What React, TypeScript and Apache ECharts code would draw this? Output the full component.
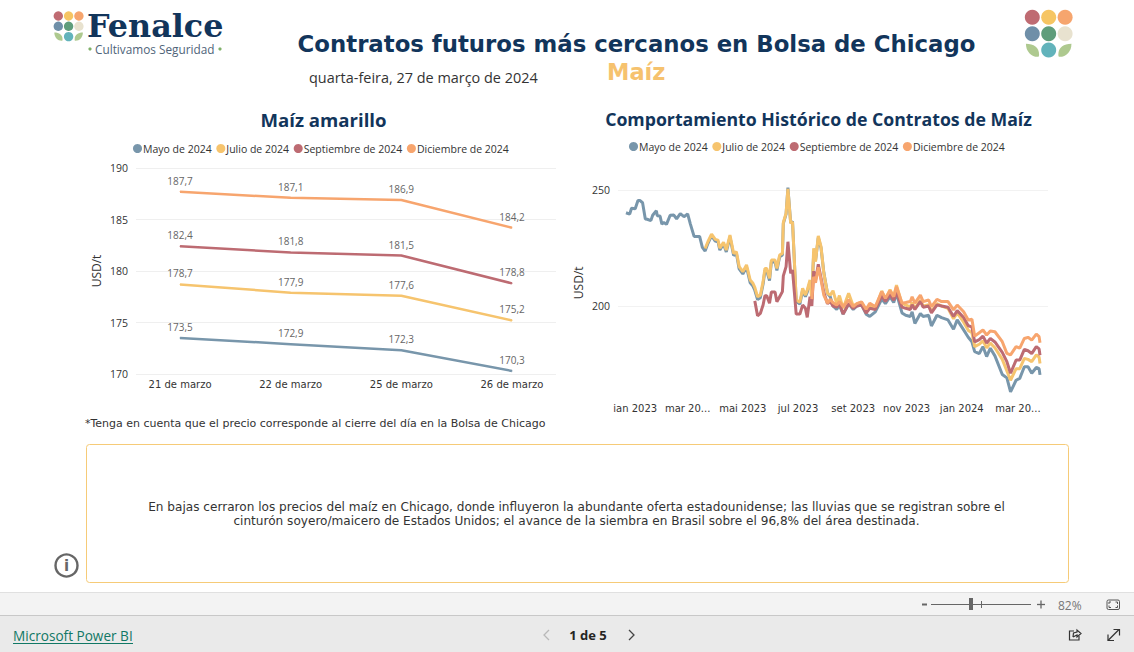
import React, { useEffect, useRef } from "react";
import * as echarts from "echarts";

const contratos = ["Mayo de 2024", "Julio de 2024", "Septiembre de 2024", "Diciembre de 2024"];
const colores = ["#7896ab", "#f6c46e", "#bd6b72", "#f7a56e"];

// Cierres recientes
const fechas = ["21 de marzo", "22 de marzo", "25 de marzo", "26 de marzo"];
const mayoCierre = [173.5, 172.9, 172.3, 170.3];
const julioCierre = [178.7, 177.9, 177.6, 175.2];
const septiembreCierre = [182.4, 181.8, 181.5, 178.8];
const diciembreCierre = [187.7, 187.1, 186.9, 184.2];

// Histórico: días desde el 1 de enero de 2023
const dias = [
  0, 4, 6, 10, 13, 15, 18, 21, 23, 27, 29, 33, 34, 37, 39, 41, 44, 48, 52, 55, 59, 63, 67, 70, 74, 80, 83, 86,
  89, 93, 97, 100, 102, 106, 109, 113, 117, 120,
  123, 127, 131, 135, 138, 140, 143, 146, 149, 151,
  153, 156, 158, 162, 164, 167, 170, 171, 174, 176,
  179, 181, 185, 189, 192, 195, 197, 200, 202, 204,
  206, 209, 212, 215, 219, 222,
  225, 229, 232, 236, 242, 247, 251, 256, 261, 265,
  271, 278, 282, 287, 291, 294, 300, 304, 309, 311,
  314, 320, 323, 329, 332, 338, 343, 350, 356, 360,
  367, 372, 376, 379, 384, 388, 392, 396, 401, 409,
  414, 418, 424, 428, 433, 437, 441, 446, 449, 450,
];
const mayoHist = [
  240.2, 239.6, 242.1, 241.9, 245.5, 245.5, 244.5, 237.5, 237.4, 236.8, 239.1, 241.1, 238.9, 238.8, 235.3, 236, 235.2, 239.1, 239.2, 237.6, 239.8, 238.5, 239.7, 235.3, 230, 230, 225.3, 223.7,
  226.9, 230.3, 228, 227.7, 224.1, 226.7, 223.3, 229.8, 221.8, 222.6,
  216, 213.8, 216.8, 210, 208.6, 206.8, 202.8, 203.6, 209.5, 215.2,
  215.2, 210.9, 219, 219, 215.3, 221.2, 222, 235.5, 239.6, 251,
  235.8, 236.5, 202, 200.8, 206.8, 204, 206, 210.4, 206, 222.5,
  219.5, 229.5, 225, 214.5, 205.5, 204,
  200, 198.5, 200.5, 196.5, 201, 198.5, 200, 200.5, 196.5, 195.5,
  197.5, 203, 201, 204, 201.5, 205.5, 197, 196, 195.5, 197.5,
  192.5, 196.8, 195.5, 196, 191.4, 196, 195, 194, 190, 194,
  189.7, 186.5, 184.6, 180.3, 179.5, 182.5, 178.2, 181.8, 178.5, 170.5,
  169, 163, 168, 168.8, 173.8, 173.8, 171, 173.5, 173, 170.3,
];
const julioHist = [
  224.8,
  227.7, 231, 228.7, 228.4, 224.9, 227.5, 224.1, 230.6, 222.7, 223.4,
  217, 214.8, 217.7, 211.2, 209.8, 208, 204, 204.7, 210.5, 216.2,
  216.2, 211.9, 219.8, 219.8, 216.2, 222, 222.7, 236, 240, 250.5,
  235.6, 236.3, 202.6, 201.6, 207.6, 204.7, 206.9, 211.2, 202.6, 224.9,
  219.1, 230.2, 225.6, 214.1, 205.5, 204.7,
  206.6, 201, 204.5, 199, 205.5, 200, 201, 201.5, 198, 200,
  199, 206.5, 203, 207, 204, 209, 201, 200.5, 199.5, 201.5,
  199, 202.5, 200, 200.5, 197.5, 201, 200, 199, 194.5, 197,
  193, 189.5, 188.5, 182.5, 183.5, 185, 182, 184, 182, 177,
  172, 168, 173, 173, 177.4, 177, 176, 178.9, 178, 175.2,
];
const septiembreHist = [
  202.2, 195.8, 196.8, 200.4, 204.4,
  204.4, 201.2, 206, 206, 201.8, 204, 206.2, 213, 217, 227.7,
  214.1, 215.5, 196.5, 196.5, 200.4, 199, 195.1, 204, 200, 215,
  211, 218, 212, 206, 201, 202,
  200, 199.5, 201, 196.5, 201, 199, 200, 200.5, 197, 199,
  198.5, 204.5, 202, 205, 202.5, 206, 199.5, 199, 198.5, 200.5,
  198.5, 202, 199.5, 200, 197, 200.5, 200, 199.5, 195.5, 198,
  195, 191.5, 191, 184.5, 185.5, 187, 184, 186, 184.5, 180,
  176, 171, 176.7, 176.7, 181.3, 180.7, 179.5, 182.5, 181.5, 178.8,
];
const diciembreHist = [
  203, 212.6,
  210, 216.7, 211.2, 204.7, 201.2, 202.9,
  201.4, 200.4, 201.9, 199.7, 202.6, 199.7, 201, 201.8, 198.6, 201.2,
  199.7, 206.2, 203.3, 206.6, 204, 208.3, 201.2, 201.5, 201.9, 204,
  201.2, 204.7, 201.9, 202.6, 199.7, 202.9, 201.9, 201.9, 198.3, 200.4,
  197.5, 194, 194.3, 187, 188.5, 189.7, 187.5, 189.2, 188.9, 184.6,
  179.6, 178.9, 182.5, 181.8, 186, 186.5, 185.3, 187.9, 186.8, 184.2,
];
const marcasMes = [10, 67, 127, 187, 247, 305, 365, 426];
const etiquetasMes = ["ian 2023", "mar 20...", "mai 2023", "jul 2023", "set 2023", "nov 2023", "jan 2024", "mar 20..."];

const titulo = "Contratos futuros más cercanos en Bolsa de Chicago";
const subtitulo = "quarta-feira, 27 de março de 2024";
const nota = "*Tenga en cuenta que el precio corresponde al cierre del día en la Bolsa de Chicago";
const comentario1 = "En bajas cerraron los precios del maíz en Chicago, donde influyeron la abundante oferta estadounidense; las lluvias que se registran sobre el";
const comentario2 = "cinturón soyero/maicero de Estados Unidos; el avance de la siembra en Brasil sobre el 96,8% del área destinada.";

echarts.graphic.registerShape(
  "hoja",
  echarts.graphic.extendPath("M0 0 C6 0 10 3 10 8 C10 9 10 10 9 10 C4 10 0 6 0 0 Z", {})
);

const SEGOE = "'Open Sans', sans-serif";
const DEJA = "'DejaVu Sans', sans-serif";
const AZUL = "#12355b";

function txt(text: string, x: number, y: number, font: string, size: number, fill: string, weight = "normal", align = "left") {
  return { type: "text", x, y, silent: true, style: { text, font: `${weight} ${size}px ${font}`, fill, align, verticalAlign: "middle" } };
}
function circ(cx: number, cy: number, r: number, fill: string) {
  return { type: "circle", silent: true, shape: { cx, cy, r }, style: { fill } };
}
function hoja(x: number, y: number, s: number, flip: boolean) {
  return { type: "hoja", silent: true, x, y, scaleX: flip ? -s : s, scaleY: s, style: { fill: "#aec98f" } };
}
function ln(x1: number, y1: number, x2: number, y2: number, stroke: string, lineWidth = 1) {
  return { type: "line", silent: true, shape: { x1, y1, x2, y2 }, style: { stroke, lineWidth } };
}
function pl(points: number[][], stroke: string, lineWidth = 1.3) {
  return { type: "polyline", silent: true, shape: { points }, style: { stroke, lineWidth, fill: "none" } };
}
function logo(x0: number, y0: number, step: number, r: number) {
  const cols = ["#bf6b72", "#f6c563", "#f6a56e", "#6f8fa8", "#5f9d7b", "#e8e2cf"];
  const out: any[] = [];
  cols.forEach((c, i) => out.push(circ(x0 + (i % 3) * step, y0 + Math.floor(i / 3) * step, r, c)));
  out.push(circ(x0 + step, y0 + 2 * step, r, "#62b3bb"));
  const s = (r * 1.75) / 10;
  out.push(hoja(x0 - r * 0.85, y0 + 2 * step - r * 0.85, s, false));
  out.push(hoja(x0 + 2 * step + r * 0.85, y0 + 2 * step - r * 0.85, s, true));
  return out;
}

const graficos: any[] = [
  // footer
  { type: "rect", silent: true, shape: { x: 0, y: 592, width: 1134, height: 23 }, style: { fill: "#f3f3f3" } },
  { type: "rect", silent: true, shape: { x: 0, y: 615, width: 1134, height: 37 }, style: { fill: "#eaeaea" } },
  ln(0, 592.5, 1134, 592.5, "#e0e0e0"),
  ln(0, 615.5, 1134, 615.5, "#c8c8c8"),
  txt("Microsoft Power BI", 13, 635.5, SEGOE, 13.6, "#117865"),
  ln(13, 643.5, 133, 643.5, "#117865"),
  txt("1 de 5", 588, 635, SEGOE, 13, "#252423", "bold", "center"),
  pl([[549, 630], [544, 635], [549, 640]], "#b8b8b8"),
  pl([[629, 630], [634, 635], [629, 640]], "#444"),
  // zoom
  ln(922, 604.5, 927, 604.5, "#666", 2),
  ln(931, 604.5, 1031, 604.5, "#666"),
  ln(981.5, 601, 981.5, 608, "#666"),
  { type: "rect", silent: true, shape: { x: 969, y: 598, width: 4, height: 12 }, style: { fill: "#666" } },
  ln(1037, 604.5, 1045, 604.5, "#666", 1.3),
  ln(1041, 600.5, 1041, 608.5, "#666", 1.3),
  txt("82%", 1058, 605, SEGOE, 12, "#777"),
  { type: "rect", silent: true, shape: { x: 1107, y: 600, width: 12.5, height: 9.5, r: 1.5 }, style: { fill: "none", stroke: "#555", lineWidth: 1 } },
  pl([[1109, 604], [1109, 602], [1111, 602]], "#555", 1),
  pl([[1117.5, 604], [1117.5, 602], [1115.5, 602]], "#555", 1),
  pl([[1109, 605.5], [1109, 607.5], [1111, 607.5]], "#555", 1),
  pl([[1117.5, 605.5], [1117.5, 607.5], [1115.5, 607.5]], "#555", 1),
  // share / expand
  pl([[1074, 631], [1069.5, 631], [1069.5, 640], [1079, 640], [1079, 636]], "#333", 1.2),
  pl([[1073, 637], [1073.5, 633], [1077, 632], [1077, 630], [1081, 633.5], [1077, 637], [1077, 635], [1073, 637]], "#333", 1.2),
  ln(1108, 640.5, 1119, 629.5, "#333", 1.2),
  pl([[1113.5, 629.5], [1119.5, 629.5], [1119.5, 635.5]], "#333", 1.2),
  pl([[1108, 634.5], [1108, 640.5], [1114, 640.5]], "#333", 1.2),
  // logos
  ...logo(58.3, 16, 10.3, 4.7),
  txt("Fenalce", 87, 25.5, "'DejaVu Serif', serif", 31.8, "#12355b", "bold"),
  txt("Cultivamos Seguridad", 95, 48.8, SEGOE, 11.8, "#4f6479"),
  circ(90, 49, 1.6, "#7fb069"),
  circ(220, 49, 1.6, "#7fb069"),
  ...logo(1032.3, 17.3, 16.4, 7.5),
  // headings
  txt(titulo, 636.5, 44, DEJA, 22.8, AZUL, "bold", "center"),
  txt(subtitulo, 309, 77.5, SEGOE, 14.45, "#333"),
  txt("Maíz", 607, 72, DEJA, 22.5, "#f6c26e", "bold"),
  txt("Maíz amarillo", 323.5, 119.5, SEGOE, 18.6, AZUL, "bold", "center"),
  txt("Comportamiento Histórico de Contratos de Maíz", 818.5, 119, SEGOE, 17.7, AZUL, "bold", "center"),
  txt(nota, 85, 423, DEJA, 11, "#333"),
  // comment box
  { type: "rect", silent: true, shape: { x: 86.5, y: 444.5, width: 982, height: 138, r: 3 }, style: { fill: "#fff", stroke: "#f6cb78", lineWidth: 1 } },
  txt(comentario1, 576.5, 507, DEJA, 12.1, "#333", "normal", "center"),
  txt(comentario2, 576.5, 521, DEJA, 12.1, "#333", "normal", "center"),
  { type: "circle", silent: true, shape: { cx: 66.5, cy: 565.5, r: 11 }, style: { fill: "#fff", stroke: "#666", lineWidth: 2.4 } },
  txt("i", 66.5, 566, DEJA, 15, "#666", "bold", "center"),
];

function serieReciente(i: number, valores: number[]) {
  return {
    type: "line",
    name: contratos[i],
    xAxisIndex: 0,
    yAxisIndex: 0,
    data: valores.map((v, k) => [k, v]),
    symbol: "circle",
    symbolSize: 1,
    showSymbol: true,
    lineStyle: { color: colores[i], width: 2.5 },
    itemStyle: { color: colores[i] },
    label: {
      show: true,
      position: "top",
      distance: 5.5,
      color: "#666",
      fontFamily: SEGOE,
      fontSize: 10,
      formatter: (p: any) => p.value[1].toFixed(1).replace(".", ","),
    },
  };
}
function serieHistorica(i: number, valores: number[]) {
  const inicio = dias.length - valores.length;
  return {
    type: "line",
    name: contratos[i],
    xAxisIndex: 1,
    yAxisIndex: 1,
    data: valores.map((v, k) => [dias[inicio + k], v]),
    symbol: "none",
    lineStyle: { color: colores[i], width: 3 },
    itemStyle: { color: colores[i] },
  };
}

const leyenda = (left: number, top: number) => ({
  left,
  top,
  data: contratos,
  icon: "circle",
  itemWidth: 9,
  itemHeight: 9,
  itemGap: 4.7,
  padding: 0,
  selectedMode: false,
  textStyle: { fontFamily: SEGOE, fontSize: 10.5, color: "#333", padding: [0, 0, 0, -4] },
});

export default function App() {
  const ref = useRef<HTMLDivElement>(null);
  useEffect(() => {
    document.body.style.margin = "0";
    const chart = echarts.init(ref.current!, null, { renderer: "svg" });
    chart.setOption({
      animation: false,
      backgroundColor: "#fff",
      legend: [leyenda(133, 143), leyenda(629, 141)],
      grid: [
        { left: 136, top: 168, width: 420, height: 206, containLabel: false },
        { left: 618, top: 166.8, width: 430, height: 232, containLabel: false },
      ],
      xAxis: [
        {
          type: "value",
          gridIndex: 0,
          min: -0.398,
          max: 3.398,
          splitLine: { show: false },
          axisLine: { show: false },
          axisTick: { show: false },
          axisLabel: {
            customValues: [0, 1, 2, 3],
            margin: 5,
            fontFamily: DEJA,
            fontSize: 10,
            color: "#333",
            formatter: (v: number) => fechas[v],
          },
        },
        {
          type: "value",
          gridIndex: 1,
          min: -8.7,
          max: 458.7,
          splitLine: { show: false },
          axisLine: { show: false },
          axisTick: { show: false },
          axisLabel: {
            customValues: marcasMes,
            margin: 5,
            fontFamily: DEJA,
            fontSize: 10,
            color: "#333",
            hideOverlap: false,
            formatter: (v: number) => etiquetasMes[marcasMes.indexOf(v)],
          },
        },
      ],
      yAxis: [
        {
          type: "value",
          gridIndex: 0,
          min: 170,
          max: 190,
          interval: 5,
          name: "USD/t",
          nameLocation: "middle",
          nameGap: 34,
          nameTextStyle: { fontFamily: SEGOE, fontSize: 12, color: "#333" },
          axisLine: { show: false },
          axisTick: { show: false },
          axisLabel: { margin: 8, fontFamily: SEGOE, fontSize: 10.5, color: "#333" },
          splitLine: { lineStyle: { color: "#efefef", width: 1 } },
        },
        {
          type: "value",
          gridIndex: 1,
          min: 160,
          max: 260,
          name: "USD/t",
          nameLocation: "middle",
          nameGap: 34,
          nameTextStyle: { fontFamily: SEGOE, fontSize: 12, color: "#333" },
          axisLine: { show: false },
          axisTick: { show: false, customValues: [200, 250] },
          axisLabel: { customValues: [200, 250], margin: 8, fontFamily: SEGOE, fontSize: 10.5, color: "#333" },
          splitLine: { lineStyle: { color: "#f2f2f2", width: 1 } },
        },
      ],
      series: [
        serieReciente(0, mayoCierre),
        serieReciente(1, julioCierre),
        serieReciente(2, septiembreCierre),
        serieReciente(3, diciembreCierre),
        serieHistorica(0, mayoHist),
        serieHistorica(1, julioHist),
        serieHistorica(2, septiembreHist),
        serieHistorica(3, diciembreHist),
      ],
      graphic: { elements: graficos },
    });
    return () => chart.dispose();
  }, []);
  return <div ref={ref} style={{ width: 1134, height: 652 }} />;
}
